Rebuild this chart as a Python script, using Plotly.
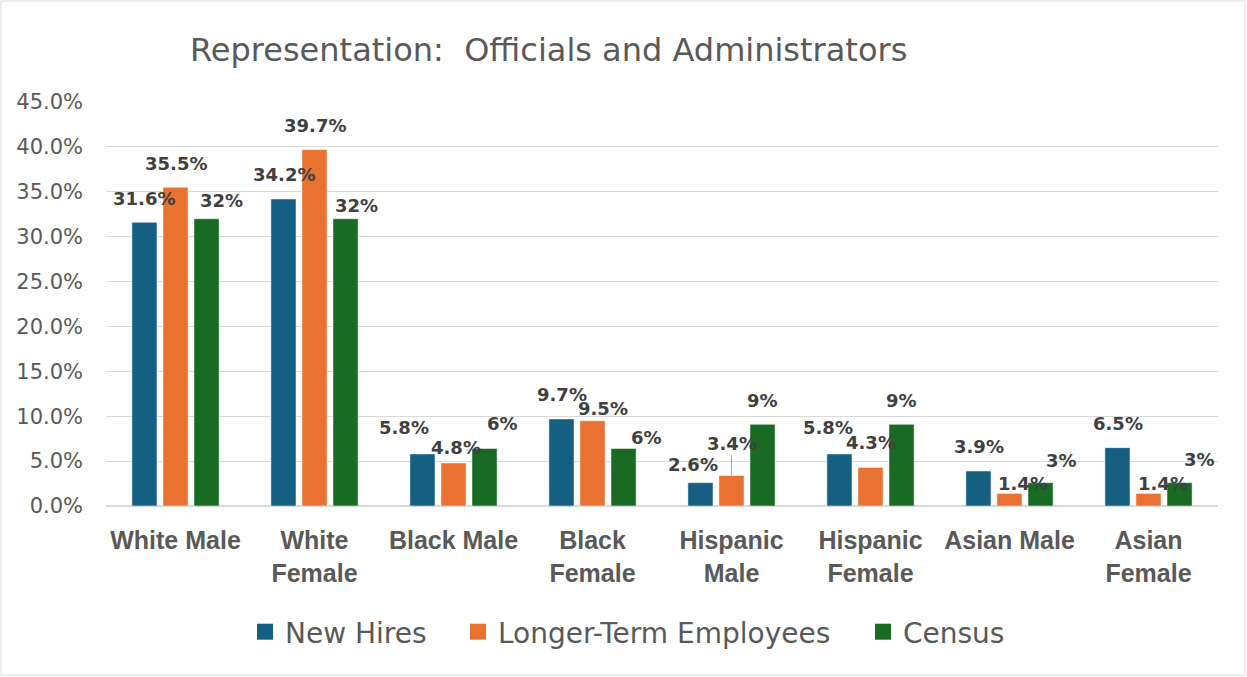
import plotly.graph_objects as go

# ---- data -------------------------------------------------------------
categories = ["White Male", "White<br>Female", "Black Male", "Black<br>Female",
              "Hispanic<br>Male", "Hispanic<br>Female", "Asian Male", "Asian<br>Female"]
new_hires = [0.316, 0.342, 0.058, 0.097, 0.026, 0.058, 0.039, 0.065]
longer_term = [0.355, 0.397, 0.048, 0.095, 0.034, 0.043, 0.014, 0.014]
census = [0.32, 0.32, 0.064, 0.064, 0.091, 0.091, 0.026, 0.026]

series_names = ["New Hires", "Longer-Term Employees", "Census"]
series_values = [new_hires, longer_term, census]
series_formats = ["{:.1%}", "{:.1%}", "{:.0%}"]

# ---- styling ----------------------------------------------------------
colors = ["#156082", "#E97132", "#196B24"]
FONT = "DejaVu Sans"
CAT_FONT = "Liberation Sans"
AXIS_GREY = "#595959"
LABEL_GREY = "#404040"
GRID = "#d9d9d9"

W, H = 1247, 677
ML, MR, MT, MB = 106, 29, 102, 171
PW, PH = W - ML - MR, H - MT - MB

BAR_SLOT = 31          # px between neighbouring bars in a group
LABEL_RISE = 24        # default px from bar top to label centre
# hand-placed label nudges: (series index, category index) -> (dx px, rise px)
label_nudge = {
    (0, 0): (-1, 24), (2, 0): (15, 18), (2, 1): (11, 13),
    (0, 2): (-19, 26), (1, 2): (2, 15), (2, 2): (18, 25),
    (1, 3): (10, 12), (2, 3): (23, 11),
    (0, 4): (-8, 18),
    (0, 5): (-12, 26), (1, 5): (0, 25),
    (1, 6): (13, 10), (2, 6): (21, 22),
    (1, 7): (14, 10), (2, 7): (20, 23),
}
leader = {(1, 4): 32}   # labels pulled away from their bar, joined by a leader line

fig = go.Figure()

for name, vals, col in zip(series_names, series_values, colors):
    fig.add_trace(go.Bar(
        name=name, x=categories, y=vals,
        marker=dict(color=col, line=dict(color="white", width=0.5)),
        showlegend=False, hoverinfo="x+y",
    ))

annotations = []
for si, (vals, fmt) in enumerate(zip(series_values, series_formats)):
    for ci, (cat, v) in enumerate(zip(categories, vals)):
        dx, rise = label_nudge.get((si, ci), (0, LABEL_RISE))
        base = dict(
            x=cat, y=v, xref="x", yref="y", text=fmt.format(v),
            font=dict(family=FONT, size=18, color=LABEL_GREY, weight="bold"),
        )
        if (si, ci) in leader:
            annotations.append(dict(
                base, xshift=(si - 1) * BAR_SLOT, showarrow=True,
                ax=0, ay=-leader[(si, ci)], arrowhead=0, arrowwidth=1,
                arrowcolor="#a6a6a6", standoff=0,
            ))
        else:
            annotations.append(dict(
                base, showarrow=False, yanchor="middle", xanchor="center",
                xshift=(si - 1) * BAR_SLOT + dx, yshift=rise,
            ))

# legend entries, one legend box per series so they can be spaced freely
legend_left_px = [245, 458, 863]
legend_ids = ["legend", "legend2", "legend3"]
for name, col, lid in zip(series_names, colors, legend_ids):
    fig.add_trace(go.Scatter(
        x=[None], y=[None], mode="markers", name=name,
        marker=dict(symbol="square", size=16, color=col),
        legend=lid, showlegend=True, hoverinfo="skip",
    ))

legend_y = -(632 - (MT + PH)) / PH
layout_legends = {}
for lid, left in zip(legend_ids, legend_left_px):
    layout_legends[lid] = dict(
        x=(left - ML) / PW, xanchor="left", y=legend_y, yanchor="middle",
        orientation="h", bgcolor="rgba(0,0,0,0)",
        font=dict(family=FONT, size=28, color=AXIS_GREY),
        itemsizing="trace",
    )

# outer chart border
def px_x(p):
    return (p - ML) / PW

def px_y(p):
    return (MT + PH - p) / PH

fig.add_shape(type="rect", xref="paper", yref="paper",
              x0=px_x(1), x1=px_x(W - 2), y0=px_y(H - 2), y1=px_y(1),
              line=dict(color=GRID, width=1), layer="below")

fig.update_layout(
    width=W, height=H,
    margin=dict(l=ML, r=MR, t=MT, b=MB, pad=0),
    paper_bgcolor="white", plot_bgcolor="white",
    barmode="group", bargap=0.33, bargroupgap=0.19,
    title=dict(
        text="Representation:  Officials and Administrators",
        x=190 / W, xanchor="left", xref="container",
        y=1 - 50 / H, yanchor="middle", yref="container",
        font=dict(family=FONT, size=32, color=AXIS_GREY),
    ),
    xaxis=dict(
        tickfont=dict(family=CAT_FONT, size=25, color=AXIS_GREY, weight="bold"),
        showgrid=False, showline=False, ticks="", ticklabelstandoff=17,
    ),
    yaxis=dict(
        range=[0, 0.45], dtick=0.05, tickformat=".1%",
        tickfont=dict(family=FONT, size=21, color=AXIS_GREY),
        showgrid=True, gridcolor=GRID, gridwidth=1,
        zeroline=True, zerolinecolor=GRID, zerolinewidth=1.5,
        showline=False, ticks="", ticklabelstandoff=22,
    ),
    annotations=annotations,
    **layout_legends,
)

fig.write_html("out.html")
